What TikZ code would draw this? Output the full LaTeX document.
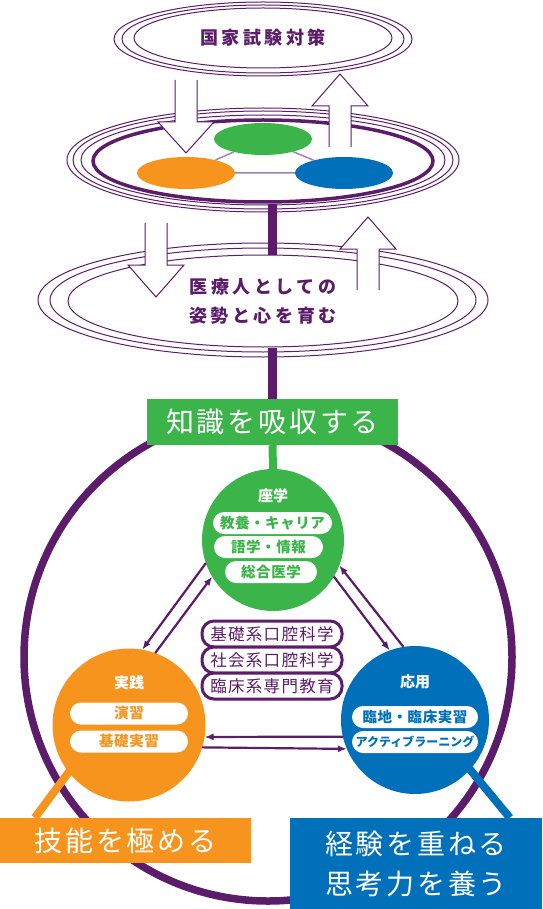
\documentclass[tikz,border=0pt]{standalone}
\usepackage{fontspec}
\setmainfont{Noto Sans CJK JP}
\usetikzlibrary{shapes.geometric,arrows.meta,calc}
\definecolor{pourpre}{RGB}{91,28,106}
\definecolor{vertC}{RGB}{59,181,74}
\definecolor{orangeC}{RGB}{247,148,30}
\definecolor{bleuC}{RGB}{0,112,186}
\definecolor{lienC}{RGB}{160,130,182}
\newcommand\titre{\fontsize{18}{29}\selectfont\bfseries\addfontfeature{LetterSpace=20}}
\newcommand\grand{\fontsize{28}{40}\selectfont\addfontfeature{LetterSpace=10}}
\newcommand\moyen{\fontsize{16.5}{20}\selectfont\addfontfeature{LetterSpace=8}}
\newcommand\petit{\fontsize{14.5}{18}\selectfont\bfseries\addfontfeature{LetterSpace=4}}
% grosse fleche creuse : x, y depart, y base de la pointe, y pointe
\newcommand\grossefleche[4]{%
  \fill[white] (#1-11,#2) -- (#1-11,#3) -- (#1-28,#3) -- (#1,#4) -- (#1+28,#3) -- (#1+11,#3) -- (#1+11,#2) -- cycle;
  \draw[fleche] (#1-11,#2) -- (#1-11,#3) -- (#1-28,#3) -- (#1,#4) -- (#1+28,#3) -- (#1+11,#3) -- (#1+11,#2);}
\begin{document}
\begin{tikzpicture}[x=1pt,y=-1pt,
  anneau/.style={pourpre,line width=1pt},
  fleche/.style={pourpre,line width=1pt,line join=miter},
  pastille/.style={ellipse,minimum width=98pt,minimum height=32pt,inner sep=0pt},
  lien/.style={lienC,line width=1.5pt},
  trait/.style={pourpre,line width=8.5pt},
  rond/.style={circle,inner sep=0pt,outer sep=0pt},
  etiquette/.style={text=white,font=\fontsize{15}{18}\selectfont\bfseries,inner sep=0pt},
  gelule/.style={fill=white,rounded corners=11pt,minimum height=22pt,inner sep=0pt,font=\petit},
  cadre/.style={draw=pourpre,line width=3pt,fill=white,rounded corners=12pt,minimum width=140pt,minimum height=26pt,inner sep=0pt,text=pourpre,font=\moyen},
  boite/.style={inner sep=0pt,text=white,font=\grand},
  liaison/.style={pourpre,line width=2.2pt,-{Latex[length=9pt,width=7pt]}}]
\useasboundingbox (0,0) rectangle (542,909);

% Anneaux du haut
\draw[anneau] (263,39) ellipse [x radius=149, y radius=37];
\draw[anneau] (263,39) ellipse [x radius=141, y radius=34];
\node[ellipse,draw=pourpre,line width=1pt,minimum width=258pt,minimum height=60pt,inner sep=0pt,text=pourpre,font=\titre] (shiken) at (263,38) {国家試験対策};

% Plateau avec les trois pastilles
\draw[anneau] (263,160) ellipse [x radius=196, y radius=52];
\draw[anneau] (263,160) ellipse [x radius=190, y radius=49];
\draw[anneau] (263,160) ellipse [x radius=182, y radius=45];
\node[ellipse,draw=pourpre,line width=3.5pt,minimum width=340pt,minimum height=82pt,inner sep=0pt] (plateau) at (263,161) {};
\node[pastille,fill=vertC] (pv) at (263,139) {};
\node[pastille,fill=orangeC] (po) at (186,173) {};
\node[pastille,fill=bleuC] (pb) at (344,173) {};
\draw[lien] (pv) -- (po) (po) -- (pb) (pb) -- (pv);
\grossefleche{186}{80}{122}{153}
\grossefleche{340}{147}{106}{74}

% Anneaux du milieu
\draw[anneau] (263,300) ellipse [x radius=225, y radius=57];
\draw[anneau] (263,300) ellipse [x radius=213, y radius=52];
\node[ellipse,draw=pourpre,line width=1pt,minimum width=390pt,minimum height=92pt,inner sep=0pt,align=center,text=pourpre,font=\titre] (kokoro) at (263,301) {医療人としての\\姿勢と心を育む};
\grossefleche{156}{223}{265}{297}
\grossefleche{368}{290}{249}{217}

% Le grand cercle
\draw[pourpre,line width=7.5pt] (268,657) circle [radius=244];

%Les trois cercles
\node[rond,fill=vertC,minimum size=142pt] (zagaku) at (273,540) {};
\node[rond,fill=orangeC,minimum size=153pt] (jissen) at (129,725) {};
\node[rond,fill=bleuC,minimum size=148pt] (ouyou) at (415,720) {};

%Les cadres
\node[boite,fill=vertC,minimum width=251pt,minimum height=46pt] (chishiki) at (272.5,422) {知識を吸収する};
\node[boite,fill=orangeC,minimum width=251pt,minimum height=45pt] (ginou) at (125.5,840.5) {技能を極める};
\node[boite,fill=bleuC,minimum width=252pt,minimum height=91pt,align=center] (keiken) at (416,863.5) {経験を重ねる\\思考力を養う};
\draw[orangeC,line width=8pt,shorten <=-6pt] (jissen.218) -- ($(ginou.north west)+(35,0)$);
\draw[bleuC,line width=8pt,shorten <=-6pt] (ouyou.318) -- ($(keiken.north west)+(220,0)$);

%Les traits
\draw[trait] (chishiki.north |- plateau.south) -- (chishiki.north |- kokoro.north);
\draw[trait] (chishiki.north |- kokoro.south) -- (chishiki.north);
\draw[vertC,line width=8pt] (chishiki.south) -- (zagaku.north);

% Contenu des cercles
\node[etiquette] (tzagaku) at (273,496) {座学};
\node[gelule,text=vertC,minimum width=119pt] (z1) at (272.5,523) {教養・キャリア};
\node[gelule,text=vertC,minimum width=109pt] (z2) at (268.5,547) {語学・情報};
\node[gelule,text=vertC,minimum width=92pt] (z3) at (271,572) {総合医学};
\node[etiquette] (tjissen) at (129,683) {実践};
\node[gelule,text=orangeC,minimum width=118pt] (j1) at (129,713.5) {演習};
\node[gelule,text=orangeC,minimum width=118pt] (j2) at (129,741.5) {基礎実習};
\node[etiquette] (touyou) at (415,682) {応用};
\node[gelule,text=bleuC,minimum width=126pt] (o1) at (415,717) {臨地・臨床実習};
\node[gelule,text=bleuC,minimum width=126pt,font=\fontsize{12}{14}\selectfont\bfseries] (o2) at (415,742) {アクティブラーニング};

% Au centre
\node[cadre] (k1) at (272,634) {基礎系口腔科学};
\node[cadre] (k2) at (272,660) {社会系口腔科学};
\node[cadre] (k3) at (272,686) {臨床系専門教育};

%Les fleches
\draw[liaison] (zagaku.199) -- (jissen.80);
\draw[liaison] (jissen.70) -- (zagaku.211);
\draw[liaison] (zagaku.329) -- (ouyou.110);
\draw[liaison] (ouyou.99) -- (zagaku.339);
\draw[liaison] (ouyou.193) -- (jissen.351);
\draw[liaison] (jissen.343) -- (ouyou.203);
\end{tikzpicture}
\end{document}
